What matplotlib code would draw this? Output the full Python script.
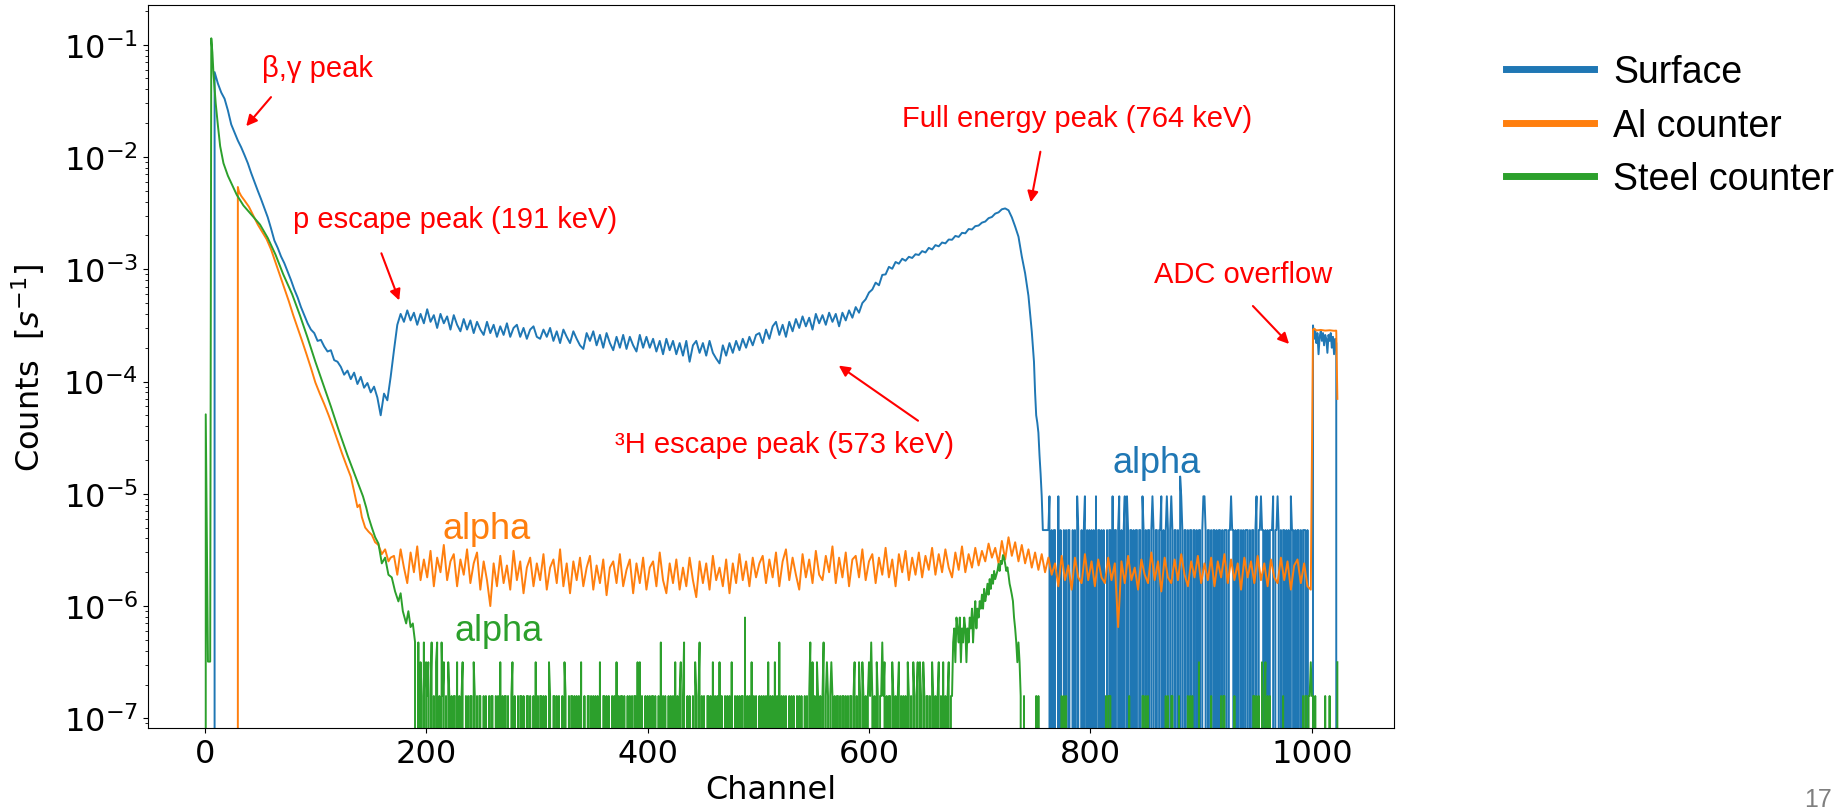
import numpy as np
import matplotlib
matplotlib.use("Agg")
import matplotlib.pyplot as plt
from matplotlib.ticker import FixedLocator, NullFormatter
from matplotlib.font_manager import FontProperties
from matplotlib.patches import FancyArrowPatch

W, H, DPI = 1845, 812, 100

# ---------------- data ----------------
# Surface: rate sampled every 3 channels starting at channel 9, in units of 1e-4 s^-1
surface_start, surface_step = 9, 3
surface_rate_e4 = [
    570, 450, 375, 330, 260, 195, 165, 140, 122, 104,
    88, 72, 60, 50, 42, 35, 29, 23, 18, 15.5,
    13, 11.3, 9.5, 8.0, 6.6, 5.6, 4.6, 3.9, 3.3, 2.9,
    2.7, 2.3, 2.35, 2.05, 1.85, 1.9, 1.55, 1.5, 1.35, 1.15,
    1.25, 1.05, 1.2, 0.95, 1.1, 0.88, 0.97, 0.8, 0.9, 0.72,
    0.5, 0.78, 0.68, 1.1, 1.9, 3.2, 4.0,
    3.4, 4.3, 3.5, 4.1, 3.2, 4.0, 3.3, 4.4, 3.4, 3.9,
    3.0, 4.0, 3.3, 3.8, 2.9, 3.9, 3.2, 2.8, 3.6, 2.9,
    3.5, 2.7, 3.4, 2.9, 2.6, 3.4, 2.7, 3.2, 2.5, 3.1,
    2.6, 3.3, 2.5, 3.0, 3.2, 2.5, 3.0, 2.4, 2.9, 3.1,
    2.5,
    2.4, 2.9, 2.5, 3.0, 2.3, 2.8, 2.2, 2.9, 2.5, 2.2,
    2.8, 2.4, 2.1, 1.95, 2.7, 2.3, 2.8, 2.1, 2.6, 2.0,
    2.7, 2.2, 1.9, 2.5, 2.0, 2.6, 1.95, 2.5, 2.1, 1.85,
    2.6, 2.0, 2.5,
    2.0, 2.4, 1.85, 2.3, 1.75, 2.4, 1.9, 2.3, 1.75, 2.2,
    1.7, 2.3, 1.5, 2.1, 2.3, 1.8, 2.2, 1.7, 2.3, 1.8,
    1.6, 1.45, 2.1, 1.7, 2.2, 1.8, 2.3, 1.9, 2.4, 2.0,
    2.5, 2.1, 2.6,
    2.7, 2.2, 2.9, 2.4, 3.1, 3.4, 2.6, 3.2, 2.5, 3.4,
    2.8, 3.6, 3.0, 3.8, 3.1, 3.7, 2.9, 4.0, 3.3, 3.9,
    3.2, 4.1, 3.4, 4.0, 3.1, 4.1, 3.5, 4.3, 3.7, 4.6,
    4.1, 5.0, 5.4, 6.2,
    6.6, 7.6, 7.2, 8.9, 9.0, 10.5, 10.1, 11.6, 11.2, 12.4,
    11.9, 12.9, 12.6, 13.6, 13.4, 14.5, 14.1, 15.5, 15.0, 16.4,
    16.0, 17.3, 17.0, 18.4, 18.3, 19.8, 19.4, 21.1, 20.9, 22.8,
    22.6, 24.2, 24.5, 26.0, 26.6, 28.5, 29.2, 31.3, 32.1, 34.2,
    34.8, 33.5, 29.0, 24.0, 19.5, 13.0, 9.2, 5.8, 2.8,
]
surface_tail_ch = [749, 750, 751, 752, 753, 754, 755, 756, 757, 760, 762]
surface_tail_rate = [1.5e-4, 8e-5, 5e-5, 4.3e-5, 3.5e-5, 2.2e-5, 1.5e-5, 9.5e-6, 4.75e-6, 4.75e-6, 4.75e-6]
surface_alpha_start = 763
surface_count_unit = 4.75e-6
surface_alpha_counts = (
    "2010110020" "1001010110" "0101021001" "0120101010" "1020110101"
    "0010110201" "1012010120" "2101101011" "0110210101" "1012101101"
    "1201012101" "2101101032" "1011010110" "1101011012" "2101101011"
    "0101101011" "1011211010" "1101010111" "0101101201" "1211010101"
    "1120112101" "0110101021" "1010110101" "11010000"
)
surface_adc_ch = [1001, 1002, 1003, 1004, 1005, 1006, 1007, 1008, 1009, 1010, 1011, 1012,
                  1013, 1014, 1015, 1016, 1017, 1018, 1019, 1020, 1021, 1022, 1023]
surface_adc_rate = [3.16e-4, 2.4e-4, 2.9e-4, 2.2e-4, 2.7e-4, 1.75e-4, 2.5e-4, 2.8e-4, 2.3e-4,
                    2.7e-4, 2.1e-4, 2.6e-4, 2.4e-4, 1.8e-4, 2.6e-4, 2.3e-4, 2.7e-4, 2.0e-4,
                    2.5e-4, 1.75e-4, 2.4e-4, 2.2e-4, 0]

# Al counter
al_head_ch = [29, 30, 31, 33, 36, 40, 44, 48, 52, 56, 60, 64, 68, 72, 76, 80, 84, 88, 92, 96,
              100, 104, 108, 112, 116, 120, 124, 128, 132, 135, 138, 140, 142, 145, 148, 151,
              154, 157, 160, 163, 166, 168]
al_head_rate = [0, 5.4e-3, 4.9e-3, 4.5e-3, 4.1e-3, 3.6e-3, 3.0e-3, 2.5e-3, 2.15e-3, 1.85e-3,
                1.5e-3, 1.15e-3, 8.8e-4, 6.8e-4, 5.2e-4, 3.9e-4, 3.0e-4, 2.3e-4, 1.75e-4, 1.32e-4,
                9.8e-5, 7.8e-5, 6.3e-5, 5.0e-5, 3.9e-5, 3.0e-5, 2.3e-5, 1.8e-5, 1.42e-5, 1.05e-5,
                7.6e-6, 8.0e-6, 6.2e-6, 5.0e-6, 4.6e-6, 4.3e-6, 3.7e-6, 3.5e-6, 2.9e-6, 3.2e-6,
                2.5e-6, 2.7e-6]
# alpha background sampled every 3 channels from channel 171, in units of 1e-6 s^-1
al_noise_start, al_noise_step = 171, 3
al_noise_e6 = [
    2.8, 1.9, 3.2, 2.2, 1.6, 3.0, 2.0, 3.4, 1.7, 2.6, 1.8, 3.1, 1.5, 2.7, 2.0, 3.5, 1.7, 2.5, 2.9, 1.5,
    2.6, 1.9, 3.2, 1.6, 2.4, 3.0, 1.4,
    2.5, 1.7, 1.0, 2.4, 1.5, 2.8, 1.6, 2.3, 1.4, 3.1, 1.7, 2.5, 1.3, 2.2, 2.7, 1.5, 2.4, 1.7, 2.9, 1.4,
    2.2, 2.6, 1.6, 3.2, 1.5, 2.4, 1.3, 2.5, 1.7, 2.7, 1.5, 2.2, 2.8, 1.4, 2.3, 1.6, 2.6, 1.25, 2.2, 2.5,
    1.6, 2.9, 1.5, 2.1, 2.6, 1.3, 2.4, 1.6, 2.7, 1.4, 2.2, 2.5, 1.5, 3.0, 1.7, 1.3, 2.4, 1.6, 2.6, 1.4,
    2.2, 1.5, 2.7, 1.7, 1.2, 2.5, 1.6, 2.4, 1.4, 2.8, 1.7, 2.2, 1.5, 2.6, 1.3, 2.4, 1.6, 2.9, 1.7, 2.5,
    1.5, 2.7, 1.8,
    2.4, 2.8, 1.6, 2.6, 1.8, 3.0, 1.5, 2.5, 3.2, 1.7, 2.7, 1.9, 1.4, 2.9, 1.8, 2.6, 1.6, 3.1, 1.9, 1.7,
    2.8, 2.0, 3.4, 1.6, 2.7, 1.8, 3.0, 1.5, 2.6, 2.8, 1.8, 3.2, 1.7, 2.5, 2.9, 1.6, 2.7, 1.9, 3.3, 1.8,
    2.6, 1.5, 2.9, 2.0, 3.1, 1.7, 2.7, 1.9, 3.0, 1.8, 2.8, 2.1, 3.3, 1.9, 2.9, 2.0, 3.2, 2.2, 1.8, 3.0,
    2.1, 3.4, 2.0, 2.9, 2.2, 3.3, 2.3,
    3.1, 2.5, 3.6, 2.7, 3.3, 2.4, 3.8, 2.6, 4.1, 2.8, 3.7, 2.5, 3.5, 2.4, 3.2, 2.2, 3.0, 2.1, 2.9, 2.0,
    2.7, 1.9,
    2.4, 1.5, 2.8, 1.7, 2.3, 1.4, 2.7, 1.8, 1.6, 2.9, 1.7, 2.5, 1.5, 2.6, 1.8, 1.6, 2.7, 1.7, 2.4, 0.65,
    2.5, 1.6, 2.8, 1.7, 2.2, 1.4, 2.6, 1.9, 1.6, 3.0, 1.7, 2.5, 1.35, 2.7, 1.8, 1.6, 2.6, 1.7, 2.9, 1.9,
    1.5, 2.5, 1.8, 2.8, 1.6, 2.4, 1.7, 2.7, 1.5, 2.5, 1.8, 2.9, 1.6, 2.6, 1.7, 2.4, 1.4, 2.7, 1.8, 2.5,
    1.6, 2.8, 1.7, 2.4, 1.5, 2.6, 1.8, 1.6, 2.7, 1.7, 2.5, 1.4, 2.3, 2.6, 1.6, 2.4, 1.5, 1.4,
]
al_adc_ch = [1001, 1002, 1004, 1008, 1012, 1016, 1020, 1022, 1023]
al_adc_rate = [2.9e-4, 2.95e-4, 2.85e-4, 2.88e-4, 2.84e-4, 2.86e-4, 2.83e-4, 2.84e-4, 7e-5]

# Steel counter
steel_head_ch = [0, 1, 3, 5, 6, 7, 8, 10, 12, 14, 17, 21, 25, 29, 35, 43, 50, 57, 64, 71,
                 79, 86, 93, 100, 107, 114, 121, 129, 136, 143, 146, 148, 151, 154, 157, 160,
                 163, 166, 169, 172, 175, 177, 179, 182, 184, 186, 188, 190]
steel_head_rate = [0, 5.1e-5, 3.2e-7, 3.2e-7, 0.114, 0.085, 0.055, 0.03, 0.019, 0.0125,
                   0.0088, 0.0068, 0.0056, 0.0046, 0.0037, 0.0030, 0.0025, 0.0019, 0.00135, 9.0e-4,
                   6.0e-4, 3.9e-4, 2.45e-4, 1.5e-4, 9.5e-5, 6.0e-5, 3.7e-5, 2.2e-5, 1.45e-5, 9.5e-6,
                   7.5e-6, 6.2e-6, 5.0e-6, 4.1e-6, 3.6e-6, 2.4e-6, 2.7e-6, 1.9e-6, 1.8e-6, 1.35e-6,
                   1.1e-6, 1.3e-6, 9.0e-7, 7.0e-7, 9.0e-7, 6.5e-7, 7.0e-7, 4.8e-7]
steel_count_unit = 1.58e-7
steel_counts_a_start = 192
steel_counts_a = (
    "0302103021" "2013010230" "1031201021" "0101102010" "1200101011"
    "0210101100" "1010010110" "0101020101" "1010012010" "0101101001"
    "1010010201" "0110101002" "1001101010" "0102100101" "1010101020"
    "0100110101" "0101020011" "0101001010" "2010110100" "1010101102"
    "0201001010" "1011010010" "3010100101" "0102010120" "1300101001"
    "0210130101" "0011010201" "0102010010" "1010200101" "0101105010"
    "1020101001" "0101010201" "0102010301" "0101001010" "1001010100"
    "1010130201" "0210101301" "2101210101" "1010110101" "0110120102"
    "1021010121" "3101021011" "3120101102" "1010120101" "0102101021"
    "0120210210" "1101021010" "1201020101" "2011"
)
steel_peak_start = 676
steel_peak_counts = [3, 4, 2, 5, 4, 3, 5, 2, 4, 3,
                     5, 4, 2, 4, 3, 5, 4, 6, 3, 5,
                     7, 4, 6, 5, 7, 6, 8, 6, 9, 7,
                     8, 10, 8, 11, 9, 12, 10, 13, 11, 12,
                     13, 15, 13, 16, 15, 18, 17, 15, 13, 14,
                     12, 10, 9, 8, 7, 5, 4, 3, 2, 3,
                     2, 1]
steel_counts_b_start = 738
steel_counts_b = (
    "0010000000" "0001010000" "0000000000" "0000001010" "1000000000"
    "0000000000" "0000000000" "0000001011" "1000000000" "0000000100"
    "0000000001" "1010100000" "0000000000" "1010011000" "0010000000"
    "1010100000" "2000000000" "0100000000" "1011000000" "0010000000"
    "0000000001" "1010100201" "2010100000" "0000001000" "0000000000"
    "0000101101" "1211010000" "0000100010" "000002"
)

series_labels = ["Surface", "Al counter", "Steel counter"]
series_colors = ["#1f77b4", "#ff7f0e", "#2ca02c"]
x_ticks = [0, 200, 400, 600, 800, 1000]
y_decades = [-7, -6, -5, -4, -3, -2, -1]

# ---------------- assemble series ----------------
def counts_to(start, s, unit):
    c = np.array([int(ch) for ch in s], dtype=float)
    return list(start + np.arange(len(c))), list(c * unit)

sx = [8] + list(surface_start + surface_step * np.arange(len(surface_rate_e4)))
sy = [0] + list(np.array(surface_rate_e4) * 1e-4)
sx += surface_tail_ch
sy += surface_tail_rate
ax_, ay_ = counts_to(surface_alpha_start, surface_alpha_counts, surface_count_unit)
sx += ax_; sy += ay_
sx += surface_adc_ch; sy += surface_adc_rate

alx = list(al_head_ch) + list(al_noise_start + al_noise_step * np.arange(len(al_noise_e6))) + al_adc_ch
aly = list(al_head_rate) + list(np.array(al_noise_e6) * 1e-6) + al_adc_rate

stx = list(steel_head_ch); sty = list(steel_head_rate)
x1, y1 = counts_to(steel_counts_a_start, steel_counts_a, steel_count_unit)
stx += x1; sty += y1
stx += list(steel_peak_start + np.arange(len(steel_peak_counts)))
sty += list(np.array(steel_peak_counts, dtype=float) * steel_count_unit)
x2, y2 = counts_to(steel_counts_b_start, steel_counts_b, steel_count_unit)
stx += x2; sty += y2

# ---------------- figure ----------------
fig = plt.figure(figsize=(W / DPI, H / DPI), dpi=DPI)
ax = fig.add_axes([148 / W, 1 - 729 / H, (1394 - 148) / W, (729 - 6) / H])
lines = []
for xs, ys, lab, col in [(sx, sy, series_labels[0], series_colors[0]),
                         (alx, aly, series_labels[1], series_colors[1]),
                         (stx, sty, series_labels[2], series_colors[2])]:
    ln, = ax.plot(xs, ys, color=col, lw=1.4, label=lab)
    lines.append(ln)

ax.set_yscale("log")
ax.set_xlim(-51.15, 1074.15)
ax.set_ylim(8.2e-8, 0.2257)
ax.set_xticks(x_ticks)
ax.yaxis.set_major_locator(FixedLocator([10.0 ** d for d in y_decades]))
minor = [m * 10.0 ** d for d in [-8] + y_decades for m in range(2, 10)]
minor = [v for v in minor if 8.2e-8 <= v <= 0.2257]
ax.yaxis.set_minor_locator(FixedLocator(minor))
ax.yaxis.set_minor_formatter(NullFormatter())
ax.tick_params(labelsize=23)
ax.set_xlabel("Channel", fontsize=23)
ax.set_ylabel(r"Counts  [$s^{-1}$]", fontsize=23, labelpad=12)

arial = "Liberation Sans"
leg = fig.legend(handles=lines, labels=series_labels, loc="upper left",
                 bbox_to_anchor=(1506 / W, 1 - 55 / H), frameon=False,
                 prop=FontProperties(family=arial, size=27),
                 handlelength=2.35, handletextpad=0.5, labelspacing=0.47,
                 borderpad=0, borderaxespad=0)
for l in leg.get_lines():
    l.set_linewidth(5)

def ftext(x, y, s, size, color):
    fig.text(x / W, 1 - y / H, s, fontsize=size, color=color, family=arial,
             ha="left", va="baseline")

def farrow(x0, y0, x1, y1):
    fig.add_artist(FancyArrowPatch((x0 / W, 1 - y0 / H), (x1 / W, 1 - y1 / H),
                                   transform=fig.transFigure, arrowstyle="-|>",
                                   mutation_scale=16, color="red", lw=1.5))

ftext(262, 77, "β,γ peak", 21, "red")
farrow(272.8, 96, 244.4, 129.3)
ftext(292.6, 227.7, "p escape peak (191 keV)", 21, "red")
farrow(380.4, 251.7, 400.2, 304)
ftext(902.5, 126.7, "Full energy peak (764 keV)", 21, "red")
farrow(1040.9, 150, 1030.2, 206)
ftext(1154.4, 282.7, "ADC overflow", 21, "red")
farrow(1251, 305, 1291, 347)
ftext(615, 453.3, "³H escape peak (573 keV)", 21, "red")
farrow(920.3, 423.3, 836.5, 365)

ftext(442.9, 539.3, "alpha", 26, series_colors[1])
ftext(454.7, 640.7, "alpha", 26, series_colors[2])
ftext(1112.9, 472.7, "alpha", 26, series_colors[0])
ftext(1804, 807, "17", 18, "#7f7f7f")

fig.savefig("out.png", dpi=DPI)
